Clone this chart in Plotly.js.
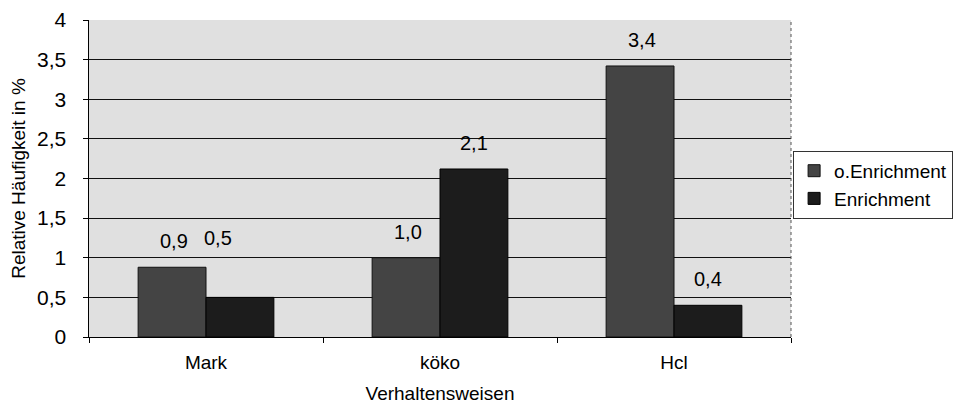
<!DOCTYPE html>
<html>
<head>
<meta charset="utf-8">
<script src="https://cdn.plot.ly/plotly-3.0.1.min.js"></script>
<style>body{margin:0;background:#fff}#chart{width:965px;height:413px}</style>
</head>
<body>
<div id="chart"></div>
<script>
const categories = ["Mark", "köko", "Hcl"];
const seriesNames = ["o.Enrichment", "Enrichment"];
const oEnrichment = [0.88, 1.0, 3.42];
const enrichment = [0.5, 2.12, 0.4];
const yTicks = [0, 0.5, 1, 1.5, 2, 2.5, 3, 3.5, 4];

const fmt = v => v.toFixed(1).replace('.', ',');
const font = {family: "Liberation Sans, Arial, sans-serif", color: "#000"};

const traces = [
  {type: "bar", name: seriesNames[0], x: categories, y: oEnrichment,
   marker: {color: "#444", line: {color: "#111", width: 1}}},
  {type: "bar", name: seriesNames[1], x: categories, y: enrichment,
   marker: {color: "#1c1c1c", line: {color: "#000", width: 1}}}
];

// data labels (placed above each bar, as in the original; the Mark/Enrichment
// label was lifted to the level of its neighbour in the source chart)
const annotations = [];
categories.forEach((c, i) => {
  annotations.push({x: c, y: oEnrichment[i], text: fmt(oEnrichment[i]), showarrow: false,
    xshift: -32, yanchor: "bottom", yshift: 13, font: Object.assign({size: 20}, font)});
  const lifted = (i === 0);
  annotations.push({x: c, y: lifted ? oEnrichment[i] : enrichment[i], text: fmt(enrichment[i]), showarrow: false,
    xshift: lifted ? 12 : 34, yanchor: "bottom", yshift: lifted ? 16 : 13, font: Object.assign({size: 20}, font)});
});

const layout = {
  width: 965, height: 413,
  margin: {l: 89, r: 170, t: 20, b: 76},
  paper_bgcolor: "#fff",
  plot_bgcolor: "#e0e0e0",
  separators: ",.",
  font: Object.assign({size: 19}, font),
  bargap: 0.42, bargroupgap: 0,
  showlegend: true,
  annotations: annotations,
  legend: {x: 1.003, y: 0.48, xanchor: "left", yanchor: "middle",
           bgcolor: "#fff", bordercolor: "#333", borderwidth: 1,
           font: Object.assign({size: 19}, font), itemwidth: 30, tracegroupgap: 0},
  xaxis: {type: "category", tickson: "boundaries", ticks: "outside", ticklen: 5,
          tickcolor: "#000", showline: true, linecolor: "#000", linewidth: 1,
          mirror: false, showgrid: false, ticklabelstandoff: 8,
          tickfont: Object.assign({size: 19}, font),
          title: {text: "Verhaltensweisen", font: Object.assign({size: 19}, font), standoff: 14}},
  yaxis: {range: [0, 4], tickvals: yTicks, ticktext: yTicks.map(v => String(v).replace('.', ',')),
          ticks: "outside", ticklen: 5, tickcolor: "#000", ticklabelstandoff: 12,
          showline: true, linecolor: "#000", linewidth: 1.5,
          showgrid: true, gridcolor: "#111", gridwidth: 1, zeroline: false,
          tickfont: Object.assign({size: 21}, font),
          title: {text: "Relative Häufigkeit in %", font: Object.assign({size: 19}, font), standoff: 6}},
  shapes: [{type: "line", xref: "paper", yref: "paper", x0: 1, x1: 1, y0: 0, y1: 1,
            line: {color: "#555", width: 1, dash: "dot"}}]
};

Plotly.newPlot("chart", traces, layout, {displayModeBar: false, staticPlot: true});
</script>
</body>
</html>
